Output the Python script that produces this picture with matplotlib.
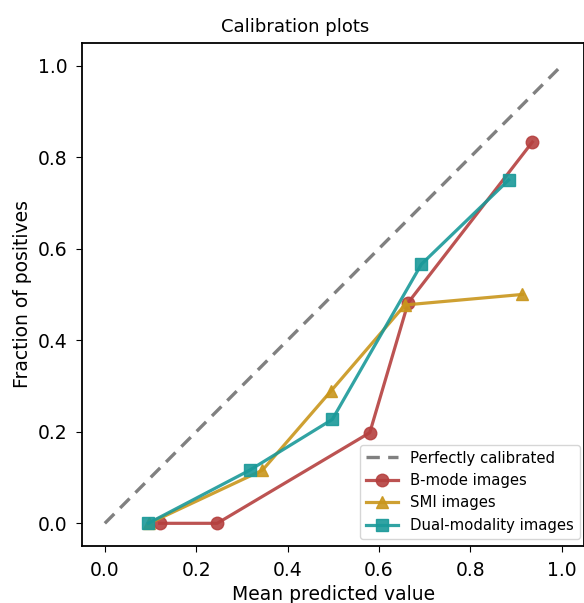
import numpy as np
import matplotlib
matplotlib.use("Agg")
import matplotlib.pyplot as plt

# calibration curves
bmode_x = [0.12, 0.246, 0.58, 0.664, 0.936]
bmode_y = [0.0, 0.0, 0.198, 0.482, 0.833]

smi_x = [0.097, 0.345, 0.495, 0.657, 0.914]
smi_y = [0.0, 0.116, 0.289, 0.477, 0.5]

dual_x = [0.095, 0.317, 0.498, 0.693, 0.884]
dual_y = [0.0, 0.116, 0.227, 0.566, 0.75]

ticks = [0.0, 0.2, 0.4, 0.6, 0.8, 1.0]

plt.rcParams.update({
    "font.size": 13.5,
    "axes.linewidth": 1.3,
    "xtick.major.pad": 6,
    "ytick.major.pad": 6,
    "xtick.major.size": 4.5,
    "ytick.major.size": 4.5,
})

fig = plt.figure(figsize=(5.84, 6.03), dpi=100)
ax = fig.add_axes([0.1404, 0.0942, 0.8604, 0.835])

ax.plot([0, 1], [0, 1], linestyle=(0, (4, 2.5)), color="gray", lw=2.4,
        label="Perfectly calibrated")
ax.plot(bmode_x, bmode_y, "o-", color="#b5403f", lw=2.3, ms=9, alpha=0.9,
        label="B-mode images")
ax.plot(smi_x, smi_y, "^-", color="#c9961c", lw=2.3, ms=9, alpha=0.9,
        label="SMI images")
ax.plot(dual_x, dual_y, "s-", color="#1a9999", lw=2.3, ms=9, alpha=0.9,
        label="Dual-modality images")

ax.set_xlim(-0.05, 1.05)
ax.set_ylim(-0.05, 1.05)
ax.set_xticks(ticks)
ax.set_yticks(ticks)
ax.set_xlabel("Mean predicted value")
ax.set_ylabel("Fraction of positives")
title = ax.set_title("Calibration plots", fontsize=13, pad=8)
title.set_x(0.424)
ax.legend(loc="lower right", bbox_to_anchor=(1.006, 0.0), fontsize=10.7,
          borderaxespad=0.5, handlelength=2.2, labelspacing=0.5)

fig.savefig("out.png", dpi=100)
